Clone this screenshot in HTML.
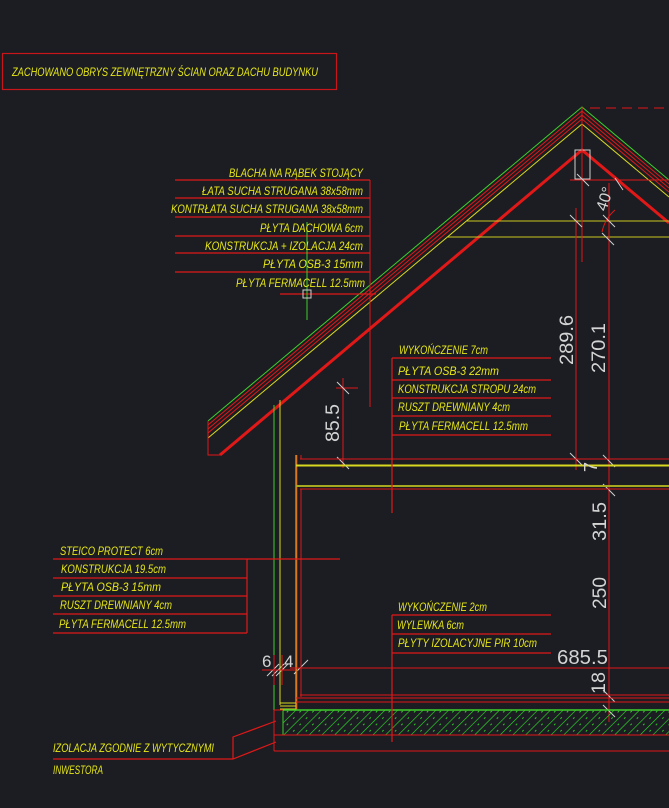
<!DOCTYPE html>
<html><head><meta charset="utf-8"><style>
html,body{margin:0;padding:0;background:#1b1d22;}
svg{display:block}
.y{fill:#e6e619;font-family:"Liberation Sans",sans-serif;font-style:italic;font-size:12px;}
.d{fill:#d4d4d4;font-family:"Liberation Sans",sans-serif;font-weight:300;}
</style></head><body>
<svg width="669" height="808" viewBox="0 0 669 808" xmlns="http://www.w3.org/2000/svg">
<rect width="669" height="808" fill="#1b1d22"/>
<rect x="2.5" y="53.5" width="334" height="36" fill="none" stroke="#c8161b" stroke-width="1.2"/>
<text class="y" x="12" y="76" textLength="306" lengthAdjust="spacingAndGlyphs">ZACHOWANO OBRYS ZEWNĘTRZNY ŚCIAN ORAZ DACHU BUDYNKU</text>

<g fill="none" stroke-width="1">
<polyline points="208,421 582,107 669,180" stroke="#3fcf2a"/>
<polyline points="208,425 582,111 669,184" stroke="#e01818"/>
<polyline points="208,429 582,115 669,188" stroke="#e01818"/>
<polyline points="208,433 582,119 669,192" stroke="#e01818"/>
<polyline points="208,438 582,124 669,197" stroke="#d8d820"/>
<polyline points="208,421 208,455 220,455" stroke="#e01818"/>
</g>
<polyline points="220,455 582,150 669,223" fill="none" stroke="#e01818" stroke-width="3"/>
<line x1="590" y1="108" x2="669" y2="108" stroke="#e01818" stroke-dasharray="10,6"/>
<rect x="575" y="150" width="15" height="29" fill="none" stroke="#cfcfcf"/>
<line x1="570" y1="180" x2="669" y2="180" stroke="#e01818"/>
<line x1="467" y1="221" x2="669" y2="221" stroke="#c8c820"/>
<line x1="447" y1="237" x2="669" y2="237" stroke="#c8c820"/>
<g stroke="#e01818" stroke-width="1">
<line x1="582" y1="107" x2="582" y2="262"/>
<line x1="576" y1="208" x2="576" y2="470"/>
<line x1="609" y1="183" x2="609" y2="722"/>
<line x1="370" y1="180" x2="370" y2="407"/>
<line x1="343" y1="378" x2="343" y2="468"/>
<line x1="336" y1="388" x2="358" y2="388"/>
</g>
<path d="M602,232 A40,40 0 0 1 615,210" fill="none" stroke="#e01818"/>
<g stroke="#d0d0d0" stroke-width="1">
<line x1="570" y1="215" x2="582" y2="227"/><line x1="603" y1="215" x2="615" y2="227"/>
<line x1="602" y1="233" x2="614" y2="245"/><line x1="577" y1="174" x2="589" y2="186"/>
<line x1="615" y1="178" x2="623" y2="190"/>
<line x1="337" y1="382" x2="349" y2="394"/><line x1="337" y1="457" x2="349" y2="469"/>
<line x1="570" y1="453" x2="582" y2="465"/><line x1="603" y1="455" x2="615" y2="467"/>
<line x1="603" y1="484" x2="615" y2="496"/>
<line x1="603" y1="690" x2="615" y2="702"/><line x1="603" y1="705" x2="615" y2="717"/>
<line x1="267" y1="676" x2="279" y2="664"/><line x1="272" y1="676" x2="284" y2="664"/><line x1="276" y1="676" x2="288" y2="664"/><line x1="294" y1="674" x2="308" y2="660"/>
</g>
<g fill="none" stroke-width="1">
<line x1="274" y1="405" x2="274" y2="710" stroke="#3fcf2a"/>
<line x1="280" y1="400" x2="280" y2="705" stroke="#d8d820"/>
<line x1="296" y1="455" x2="296" y2="710" stroke="#d8d820"/>
<line x1="297" y1="455" x2="297" y2="710" stroke="#e01818"/>
<line x1="301" y1="489" x2="301" y2="697" stroke="#e01818"/>
<line x1="301" y1="455" x2="301" y2="459" stroke="#e01818"/>
<line x1="280" y1="703" x2="296" y2="703" stroke="#d8d820"/>
<line x1="280" y1="706" x2="296" y2="706" stroke="#d8d820"/>
<line x1="280" y1="709" x2="296" y2="709" stroke="#d8d820"/>
</g>
<g stroke-width="1">
<line x1="300" y1="459" x2="669" y2="459" stroke="#e01818"/>
<line x1="296" y1="465.5" x2="669" y2="465.5" stroke="#d8d820" stroke-width="2"/>
<line x1="296" y1="486" x2="669" y2="486" stroke="#a8a820" stroke-width="2"/>
<line x1="300" y1="489" x2="669" y2="489" stroke="#e01818"/>
<line x1="290" y1="668" x2="669" y2="668" stroke="#e01818"/>
<line x1="300" y1="695" x2="669" y2="695" stroke="#e01818"/>
<line x1="296" y1="698" x2="669" y2="698" stroke="#e01818"/>
<line x1="296" y1="702" x2="669" y2="702" stroke="#e01818"/>
</g>
<defs><pattern id="h" width="9" height="9" patternUnits="userSpaceOnUse" patternTransform="rotate(45)"><line x1="0" y1="0" x2="0" y2="9" stroke="#2fd72a" stroke-width="1.3"/><line x1="4.5" y1="2" x2="4.5" y2="4" stroke="#2fc72a" stroke-width="1"/></pattern></defs>
<rect x="283" y="710" width="386" height="25" fill="url(#h)"/>
<line x1="283" y1="710" x2="669" y2="710" stroke="#3fcf2a" stroke-width="1.5"/>
<line x1="283" y1="710" x2="283" y2="735" stroke="#3fcf2a"/>
<g stroke="#e01818" fill="none">
<line x1="274" y1="735" x2="669" y2="735"/>
<line x1="274" y1="751" x2="669" y2="751"/>
<line x1="274" y1="710" x2="274" y2="751"/>
<line x1="274" y1="710" x2="283" y2="710"/>
</g>

<g stroke="#e01818" stroke-width="1.2">
<line x1="175" y1="180" x2="370" y2="180"/><line x1="175" y1="198" x2="370" y2="198"/>
<line x1="175" y1="217" x2="370" y2="217"/><line x1="175" y1="236" x2="370" y2="236"/>
<line x1="175" y1="253" x2="370" y2="253"/><line x1="175" y1="272" x2="370" y2="272"/>
<line x1="280" y1="294" x2="376" y2="294"/>
</g>
<line x1="307" y1="222" x2="307" y2="320" stroke="#3fcf2a"/>
<rect x="303" y="290" width="8" height="8" fill="none" stroke="#d0d0d0"/>
<text class="y" x="229" y="177" textLength="134" lengthAdjust="spacingAndGlyphs">BLACHA NA RĄBEK STOJĄCY</text>
<text class="y" x="202" y="195" textLength="161" lengthAdjust="spacingAndGlyphs">ŁATA SUCHA STRUGANA 38x58mm</text>
<text class="y" x="171" y="213" textLength="192" lengthAdjust="spacingAndGlyphs">KONTRŁATA SUCHA STRUGANA 38x58mm</text>
<text class="y" x="260" y="232" textLength="103" lengthAdjust="spacingAndGlyphs">PŁYTA DACHOWA 6cm</text>
<text class="y" x="205" y="250" textLength="158" lengthAdjust="spacingAndGlyphs">KONSTRUKCJA + IZOLACJA 24cm</text>
<text class="y" x="263" y="268" textLength="100" lengthAdjust="spacingAndGlyphs">PŁYTA OSB-3 15mm</text>
<text class="y" x="236" y="287" textLength="129" lengthAdjust="spacingAndGlyphs">PŁYTA FERMACELL 12.5mm</text>

<g stroke="#e01818" stroke-width="1.2">
<line x1="392" y1="358" x2="551" y2="358"/><line x1="392" y1="380" x2="551" y2="380"/>
<line x1="392" y1="398" x2="551" y2="398"/><line x1="392" y1="416" x2="551" y2="416"/>
<line x1="392" y1="435" x2="551" y2="435"/>
<line x1="392" y1="358" x2="392" y2="513"/>
</g>
<text class="y" x="399" y="354" textLength="89" lengthAdjust="spacingAndGlyphs">WYKOŃCZENIE 7cm</text>
<text class="y" x="398" y="375" textLength="101" lengthAdjust="spacingAndGlyphs">PŁYTA OSB-3 22mm</text>
<text class="y" x="398" y="393" textLength="138" lengthAdjust="spacingAndGlyphs">KONSTRUKCJA STROPU 24cm</text>
<text class="y" x="398" y="411" textLength="112" lengthAdjust="spacingAndGlyphs">RUSZT DREWNIANY 4cm</text>
<text class="y" x="399" y="430" textLength="129" lengthAdjust="spacingAndGlyphs">PŁYTA FERMACELL 12.5mm</text>

<g stroke="#e01818" stroke-width="1.2">
<line x1="392" y1="615" x2="551" y2="615"/><line x1="392" y1="634" x2="551" y2="634"/>
<line x1="392" y1="653" x2="551" y2="653"/>
<line x1="392" y1="615" x2="392" y2="742"/>
</g>
<text class="y" x="398" y="611" textLength="89" lengthAdjust="spacingAndGlyphs">WYKOŃCZENIE 2cm</text>
<text class="y" x="397" y="629" textLength="67" lengthAdjust="spacingAndGlyphs">WYLEWKA 6cm</text>
<text class="y" x="398" y="647" textLength="139" lengthAdjust="spacingAndGlyphs">PŁYTY IZOLACYJNE PIR 10cm</text>

<g stroke="#e01818" stroke-width="1.2">
<line x1="53" y1="559" x2="340" y2="559"/><line x1="53" y1="578" x2="247" y2="578"/>
<line x1="53" y1="596" x2="247" y2="596"/><line x1="53" y1="614" x2="247" y2="614"/>
<line x1="53" y1="633" x2="247" y2="633"/><line x1="247" y1="559" x2="247" y2="633"/>
</g>
<text class="y" x="60" y="555" textLength="103" lengthAdjust="spacingAndGlyphs">STEICO PROTECT 6cm</text>
<text class="y" x="61" y="573" textLength="105" lengthAdjust="spacingAndGlyphs">KONSTRUKCJA 19.5cm</text>
<text class="y" x="61" y="591" textLength="100" lengthAdjust="spacingAndGlyphs">PŁYTA OSB-3 15mm</text>
<text class="y" x="60" y="609" textLength="112" lengthAdjust="spacingAndGlyphs">RUSZT DREWNIANY 4cm</text>
<text class="y" x="59" y="628" textLength="127" lengthAdjust="spacingAndGlyphs">PŁYTA FERMACELL 12.5mm</text>

<polyline points="53,759 233,759 276,742" fill="none" stroke="#e01818" stroke-width="1.2"/>
<polyline points="233,759 233,737 276,721" fill="none" stroke="#e01818" stroke-width="1.2"/>
<text class="y" x="53" y="752" textLength="161" lengthAdjust="spacingAndGlyphs">IZOLACJA ZGODNIE Z WYTYCZNYMI</text>
<text class="y" x="53" y="774" textLength="50" lengthAdjust="spacingAndGlyphs">INWESTORA</text>

<g class="d" font-size="19">
<text transform="translate(573,365) rotate(-90)" textLength="50" lengthAdjust="spacingAndGlyphs">289.6</text>
<text transform="translate(605,373) rotate(-90)" textLength="50" lengthAdjust="spacingAndGlyphs">270.1</text>
<text transform="translate(339,442) rotate(-90)" textLength="38" lengthAdjust="spacingAndGlyphs">85.5</text>
<text transform="translate(606,541) rotate(-90)" textLength="39" lengthAdjust="spacingAndGlyphs">31.5</text>
<text transform="translate(606,609) rotate(-90)" textLength="32" lengthAdjust="spacingAndGlyphs">250</text>
<text transform="translate(605,694) rotate(-90)" textLength="22" lengthAdjust="spacingAndGlyphs">18</text>
<text transform="translate(606,212) rotate(-72)" font-size="16">40°</text>
<text transform="translate(597,472) rotate(-90)" font-size="18">7</text>
<text x="557" y="664" font-size="20" textLength="51" lengthAdjust="spacingAndGlyphs">685.5</text>
<text x="262" y="667" font-size="17">6</text>
<text x="284" y="667" font-size="17">4</text>
</g>
<g stroke="#e01818"><line x1="262" y1="670" x2="296" y2="670"/><line x1="274" y1="655" x2="274" y2="685"/><line x1="282" y1="655" x2="282" y2="685"/></g>
</svg>
</body></html>
